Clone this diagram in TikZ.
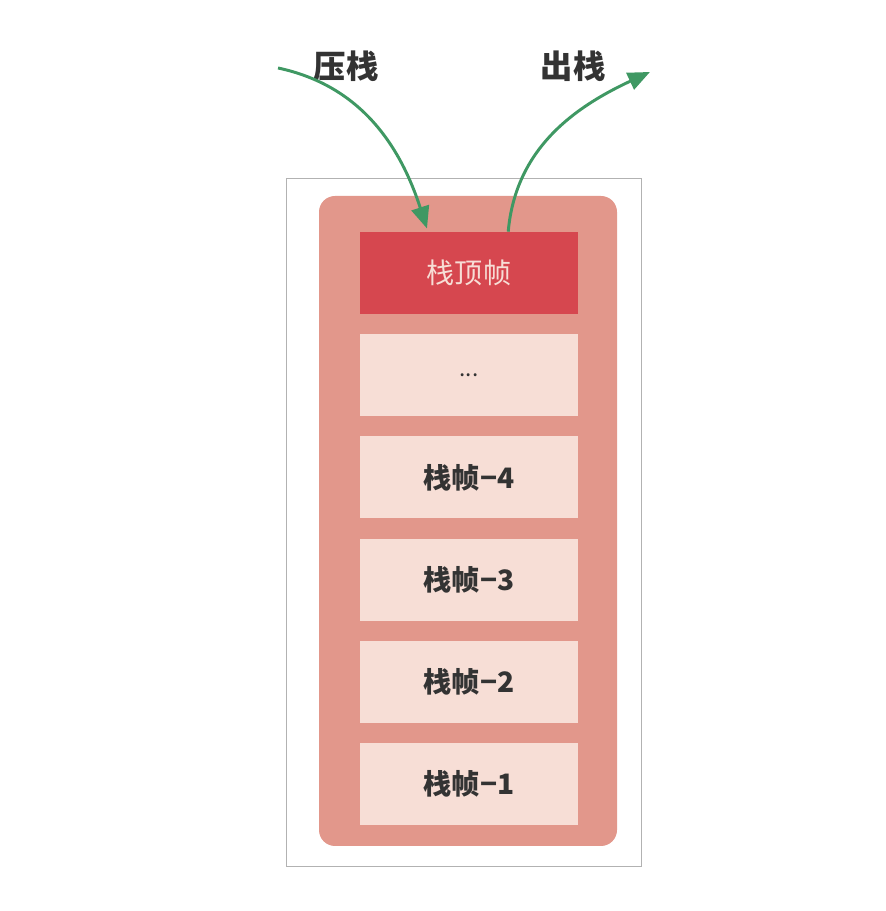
\documentclass[tikz,border=0pt]{standalone}
\usepackage{fontspec}
\newfontfamily\cjk{Noto Sans CJK SC}
\usepackage{tikz}
\usetikzlibrary{arrows.meta,positioning,calc}

\definecolor{stackbg}{HTML}{E2978B}
\definecolor{framebg}{HTML}{F7DED6}
\definecolor{topbg}{HTML}{D6474F}
\definecolor{arrowgreen}{HTML}{3F9863}

\begin{document}
\begin{tikzpicture}[
  x=0.025cm, y=0.025cm,
  node distance=0.49cm,
  frame/.style={rectangle,fill=framebg,minimum width=5.45cm,minimum height=2.05cm,
              inner sep=0pt,font=\cjk\bfseries\fontsize{20}{24}\selectfont,text=black!80},
  topframe/.style={frame,fill=topbg,text=framebg,font=\cjk\fontsize{20}{24}\selectfont},
  op/.style={font=\cjk\bfseries\fontsize{23}{28}\selectfont,text=black!80},
  arr/.style={-{Triangle[length=0.55cm,width=0.45cm,fill=arrowgreen]},line width=2.1pt,draw=arrowgreen}]
\useasboundingbox (0,0) rectangle (885,911);
% outer box and stack body
\draw[gray!60,line width=0.6pt] (286,45) rectangle (641,733);
\fill[stackbg,rounded corners=0.4cm] (319,65) rectangle (617,715);
% frames
\node[topframe] (top) at (469,638) {栈顶帧};
\node[frame,below=of top,font=\cjk\fontsize{16}{20}\selectfont] (dots) {...};
\node[frame,below=of dots] (f4) {栈帧−4};
\node[frame,below=of f4] (f3) {栈帧−3};
\node[frame,below=of f3] (f2) {栈帧−2};
\node[frame,below=of f2] (f1) {栈帧−1};
% push / pop
\node[op] (push) at (346,845) {压栈};
\node[op] (pop) at (573,845) {出栈};
\coordinate (pushin) at (278,843);
\coordinate (popout) at (650,839);
\draw[arr] (pushin) to[out=-12,in=108] ([xshift=-1.05cm,yshift=0.08cm]top.north);
\draw[arr] ([xshift=0.98cm]top.north) to[out=85,in=205] (popout);
\end{tikzpicture}
\end{document}
